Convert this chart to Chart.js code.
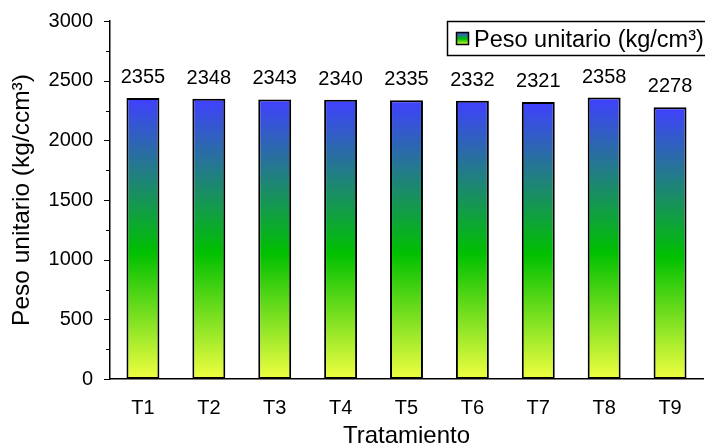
<!DOCTYPE html>
<html>
<head>
<meta charset="utf-8">
<script src="https://cdn.jsdelivr.net/npm/chart.js@4/dist/chart.umd.min.js"></script>
<style>
  html, body { margin: 0; padding: 0; background: #fff; }
  #wrap { width: 705px; height: 448px; }
</style>
</head>
<body>
<div id="wrap"><canvas id="c" width="705" height="448"></canvas></div>
<script>
const categories = ['T1', 'T2', 'T3', 'T4', 'T5', 'T6', 'T7', 'T8', 'T9'];
const pesoUnitario = [2355, 2348, 2343, 2340, 2335, 2332, 2321, 2358, 2278];
const seriesName = 'Peso unitario (kg/cm³)';
const yTitle = 'Peso unitario (kg/ccm³)';
const xTitle = 'Tratamiento';
const yMax = 3000;
const yMinorStep = 250;
const yLabelStep = 500;

const FONT = '"Liberation Sans", Arial, sans-serif';

// vertical gradient: yellow at the base, green in the middle, blue at the top
function barGradient(ctx, top, bottom) {
  const g = ctx.createLinearGradient(0, top, 0, bottom);
  g.addColorStop(0, '#4040ff');
  g.addColorStop(0.55, '#00c000');
  g.addColorStop(1, '#f0ff40');
  return g;
}

// value labels above each bar
const valueLabels = {
  id: 'valueLabels',
  afterDatasetsDraw(chart) {
    const ctx = chart.ctx;
    const meta = chart.getDatasetMeta(0);
    ctx.save();
    ctx.font = '20px ' + FONT;
    ctx.fillStyle = '#000';
    ctx.textAlign = 'center';
    ctx.textBaseline = 'alphabetic';
    meta.data.forEach((bar, i) => {
      ctx.fillText(String(pesoUnitario[i]), bar.x, bar.y - 15);
    });
    ctx.restore();
  }
};

// minor/major tick marks on the value axis
const yTickMarks = {
  id: 'yTickMarks',
  afterDraw(chart) {
    const ctx = chart.ctx;
    const y = chart.scales.y;
    const x0 = chart.chartArea.left;
    ctx.save();
    ctx.strokeStyle = '#000';
    ctx.lineWidth = 1;
    for (let v = 0; v <= yMax; v += yMinorStep) {
      const py = Math.round(y.getPixelForValue(v)) + 0.5;
      const len = (v % yLabelStep === 0) ? 6 : 4;
      ctx.beginPath();
      ctx.moveTo(x0 - len, py);
      ctx.lineTo(x0, py);
      ctx.stroke();
    }
    ctx.restore();
  }
};

// boxed legend in the upper right
const boxLegend = {
  id: 'boxLegend',
  afterDraw(chart) {
    const ctx = chart.ctx;
    ctx.save();
    ctx.fillStyle = '#fff';
    ctx.fillRect(447, 21, 270, 35);
    ctx.strokeStyle = '#000';
    ctx.lineWidth = 1.5;
    ctx.strokeRect(447.5, 21.5, 270, 34);
    ctx.fillStyle = barGradient(ctx, 32, 45);
    ctx.fillRect(456, 32, 13, 13);
    ctx.lineWidth = 1.5;
    ctx.strokeRect(456.5, 32.5, 12, 12);
    ctx.fillStyle = '#000';
    ctx.font = '23.5px ' + FONT;
    ctx.textAlign = 'left';
    ctx.textBaseline = 'alphabetic';
    ctx.fillText(seriesName, 474, 47);
    ctx.restore();
  }
};

new Chart(document.getElementById('c'), {
  type: 'bar',
  data: {
    labels: categories,
    datasets: [{
      label: seriesName,
      data: pesoUnitario,
      backgroundColor(context) {
        const chart = context.chart;
        const ys = chart.scales.y;
        if (!chart.chartArea || !ys || context.raw == null) return '#00c000';
        const top = ys.getPixelForValue(context.raw);
        const bottom = ys.getPixelForValue(0);
        return barGradient(chart.ctx, top, bottom);
      },
      borderColor: '#000',
      borderWidth: 2,
      borderSkipped: false,
      barPercentage: 0.5,
      categoryPercentage: 1.0
    }]
  },
  options: {
    responsive: false,
    animation: false,
    devicePixelRatio: 1,
    layout: { padding: { top: 21, right: 2, left: 0, bottom: 0 } },
    plugins: {
      legend: { display: false },
      tooltip: { enabled: false }
    },
    scales: {
      x: {
        grid: { display: false, drawTicks: false },
        border: { display: true, color: '#000', width: 1.5 },
        ticks: { color: '#000', font: { size: 20, family: FONT }, padding: 17 },
        title: { display: true, text: xTitle, color: '#000', font: { size: 24, family: FONT, lineHeight: 1 }, padding: { top: 0, bottom: 0 } },
        afterFit(scale) {
          scale.height = 69;
          scale.paddingLeft = 0;
          scale.paddingRight = 0;
        }
      },
      y: {
        min: 0,
        max: yMax,
        grid: { display: false, drawTicks: false },
        border: { display: true, color: '#000', width: 1.5 },
        ticks: {
          stepSize: yLabelStep,
          color: '#000',
          font: { size: 20, family: FONT },
          padding: 17,
          callback: (v) => String(v)
        },
        title: { display: true, text: yTitle, color: '#000', font: { size: 24.5, family: FONT, lineHeight: 1 }, padding: { top: 10, bottom: 0 } },
        afterFit(scale) {
          scale.width = 110;
          scale.paddingTop = 0;
          scale.paddingBottom = 0;
        }
      }
    }
  },
  plugins: [valueLabels, yTickMarks, boxLegend]
});
</script>
</body>
</html>
